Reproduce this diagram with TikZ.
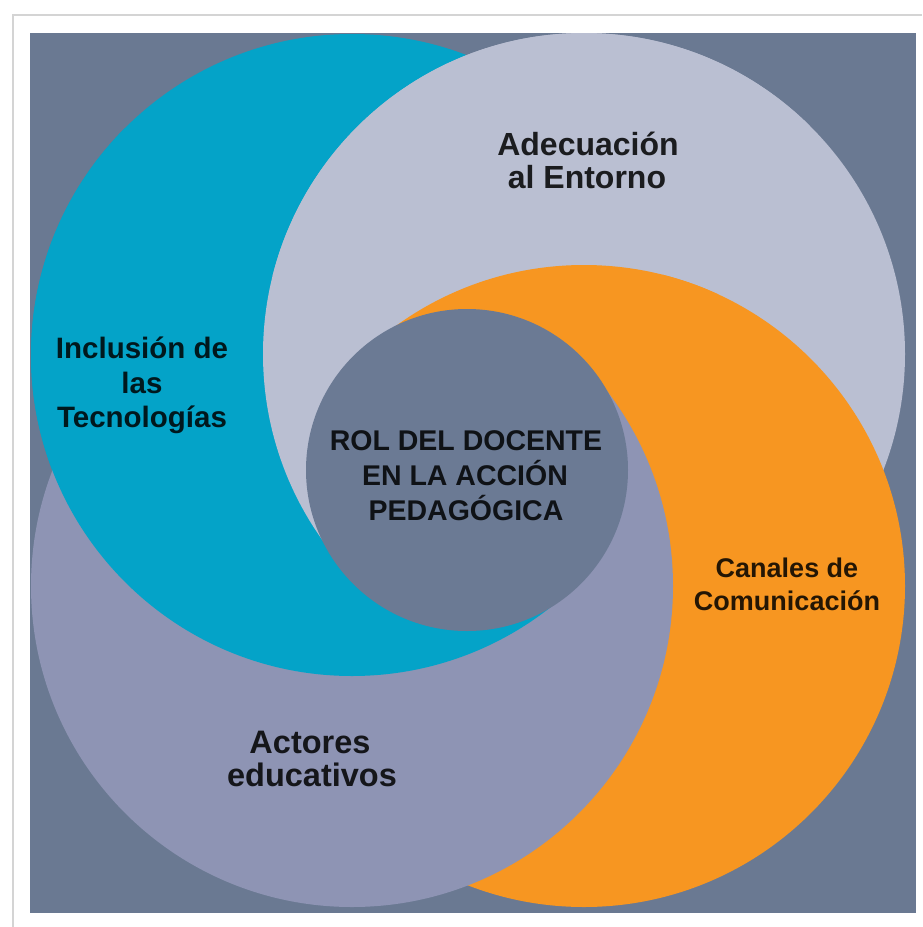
\documentclass[tikz,border=0pt]{standalone}
\usepackage{fontspec}
\setmainfont{Liberation Sans}
\definecolor{slate}{HTML}{6A7992}
\definecolor{hubc}{HTML}{6B7A94}
\definecolor{cyanc}{HTML}{04A3C8}
\definecolor{lgrayc}{HTML}{BABFD2}
\definecolor{orangec}{HTML}{F79621}
\definecolor{peric}{HTML}{8E94B4}
\definecolor{shadowc}{HTML}{D4D4D4}
\newcommand\swC{\fill[cyanc] (cC) circle[radius=321pt];}
\newcommand\swG{\fill[lgrayc] (cG) circle[radius=321pt];}
\newcommand\swO{\fill[orangec] (cO) circle[radius=321pt];}
\newcommand\swP{\fill[peric] (cP) circle[radius=321pt];}
\begin{document}
\begin{tikzpicture}[x=1pt,y=-1pt,
  lbl/.style={anchor=base, inner sep=0pt, text=black, text opacity=0.85}]
\useasboundingbox (0,0) rectangle (922,927);
\fill[white] (0,0) rectangle (922,927);
\draw[shadowc, line width=2pt] (12.5,927) -- (12.5,14.5) -- (922,14.5);
\fill[slate] (30,33) rectangle (916,913);
\coordinate (M) at (467,470);
\coordinate (cC) at (352,355);
\coordinate (cG) at (584,354);
\coordinate (cO) at (584,586);
\coordinate (cP) at (352,586);
\begin{scope}
  \clip (30,33) rectangle (916,913);
  % full discs, each over the previous one
  \swC\swG\swO\swP
  % cyan back on top in the lower-left half
  \begin{scope}
    \clip ([shift={(-1500,-1500)}]M) -- ([shift={(1500,1500)}]M) -- ([shift={(-1500,1500)}]M) -- cycle;
    \swC
  \end{scope}
  % light grey back on top in the upper-left half
  \begin{scope}
    \clip ([shift={(1500,-1500)}]M) -- ([shift={(-1500,1500)}]M) -- ([shift={(-1500,-1500)}]M) -- cycle;
    \swG
  \end{scope}
  % orange back on top in the upper sector
  \begin{scope}
    \clip (M) -- ([shift={(-35:1500)}]M) -- ([shift={(-145:1500)}]M) -- cycle;
    \swO
  \end{scope}
\end{scope}
\fill[hubc] (M) circle[radius=161pt];
% labels
\node[lbl, font=\bfseries\fontsize{32}{33}\selectfont] (ad1) at (588,155) {Adecuación};
\node[lbl, font=\bfseries\fontsize{32}{33}\selectfont] (ad2) at (587,188) {al Entorno};
\node[lbl, font=\bfseries\fontsize{29.5}{34}\selectfont] (in1) at (142,358) {Inclusión de};
\node[lbl, font=\bfseries\fontsize{29.5}{34}\selectfont] (in2) at (142,393) {las};
\node[lbl, font=\bfseries\fontsize{29.5}{34}\selectfont] (in3) at (142,427) {Tecnologías};
\node[lbl, font=\bfseries\fontsize{27}{33}\selectfont] (ca1) at (787,577) {Canales de};
\node[lbl, font=\bfseries\fontsize{27}{33}\selectfont] (ca2) at (787,610) {Comunicación};
\node[lbl, font=\bfseries\fontsize{32.5}{33}\selectfont] (ac1) at (310,753) {Actores};
\node[lbl, font=\bfseries\fontsize{32.5}{33}\selectfont] (ac2) at (312,786) {educativos};
\node[lbl, font=\bfseries\fontsize{28.5}{35}\selectfont] (ro1) at (466,450) {ROL DEL DOCENTE};
\node[lbl, font=\bfseries\fontsize{28.5}{35}\selectfont] (ro2) at (465,485) {EN LA ACCIÓN};
\node[lbl, font=\bfseries\fontsize{28.5}{35}\selectfont] (ro3) at (466,520) {PEDAGÓGICA};
\end{tikzpicture}
\end{document}
